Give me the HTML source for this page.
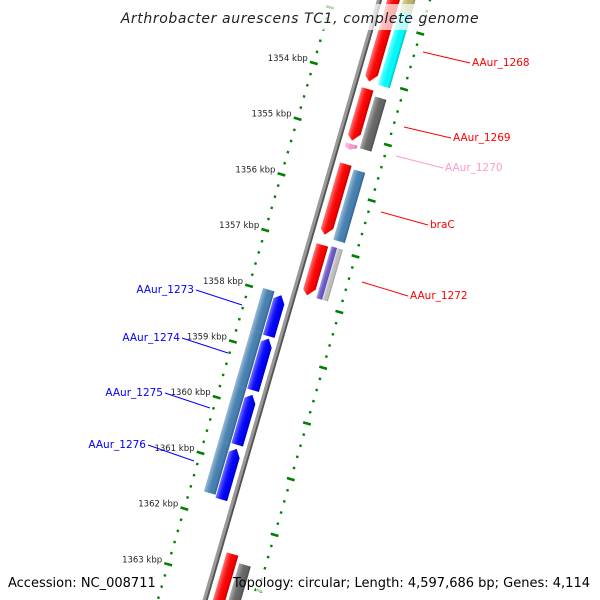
<!DOCTYPE html>
<html><head><meta charset="utf-8"><style>
html,body{margin:0;padding:0;background:#fff;width:600px;height:600px;overflow:hidden}
svg{display:block;overflow:hidden;font-family:"DejaVu Sans","Liberation Sans",sans-serif}
</style></head><body>
<svg id="c" width="600" height="600" viewBox="0 0 600 600">
<defs>
<linearGradient id="gshade" x1="0" x2="1" y1="0" y2="0">
<stop offset="0" stop-color="#fff" stop-opacity="0.45"/>
<stop offset="0.3" stop-color="#fff" stop-opacity="0.15"/>
<stop offset="0.75" stop-color="#000" stop-opacity="0"/>
<stop offset="1" stop-color="#000" stop-opacity="0.25"/>
</linearGradient>
<clipPath id="frame"><rect x="0" y="0" width="600" height="600"/></clipPath>
</defs>
<g clip-path="url(#frame)">
<g id="rot" transform="translate(380,0) rotate(16.2)"></g>
</g>
<g id="labels"></g>
<rect x="130" y="4" width="340" height="26" fill="#fff" fill-opacity="0.7"/>
<text x="300" y="23" text-anchor="middle" font-size="14" font-style="italic" fill="#222" letter-spacing="0.6">Arthrobacter aurescens TC1, complete genome</text>
<rect x="4" y="570" width="148" height="22" fill="#fff" fill-opacity="0.7"/>
<text x="8" y="587" font-size="13" fill="#000">Accession: NC_008711</text>
<rect x="256" y="570" width="340" height="22" fill="#fff" fill-opacity="0.7"/>
<text x="590" y="587" text-anchor="end" font-size="13" fill="#000">Topology: circular; Length: 4,597,686 bp; Genes: 4,114</text>
</svg>
<script>
// ---- data (kbp) ----
var geneNames  = ["AAur_1268","AAur_1269","AAur_1270","braC","AAur_1272","AAur_1273","AAur_1274","AAur_1275","AAur_1276","next-red","prev-gene"];
var geneStarts = [1352.5, 1354.17, 1355.16, 1355.52, 1356.97, 1358.00, 1358.78, 1359.79, 1360.76, 1362.52, 1352.0];
var geneEnds   = [1354.04,1355.10, 1355.26, 1356.79, 1357.88, 1358.74, 1359.71, 1360.69, 1361.67, 1364.5, 1352.72];
var geneStrand = [1,1,1,1,1,-1,-1,-1,-1,1,1];
var geneColors = ["#ff0000","#ff0000","#ff99cc","#ff0000","#ff0000","#0000ff","#0000ff","#0000ff","#0000ff","#ff0000","#ff0000"];
// outer (category) track
var catStarts = [1352.0, 1352.72, 1354.26, 1355.57, 1356.95, 1356.95, 1357.97, 1358.72, 1359.71, 1360.71, 1362.64, 1363.65];
var catEnds   = [1352.72,1354.05, 1355.19, 1356.83, 1357.88, 1357.88, 1358.72, 1359.71, 1360.71, 1361.62, 1364.5, 1364.5];
var catSide   = [1,1,1,1,1,1,-1,-1,-1,-1,1,-1];
var catColors = ["#bdb76b","#00ffff","#666666","#4682b4","#6a5acd","#c0c0c0","#4682b4","#4682b4","#4682b4","#4682b4","#666666","#6a5acd"];
var catHalf   = [0,0,0,0,-1,1,0,0,0,0,0,0];
var tickKbp = [1352,1353,1354,1355,1356,1357,1358,1359,1360,1361,1362,1363,1364,1365];
var labelGene = [0,1,2,3,4,5,6,7,8];

var NS="http://www.w3.org/2000/svg";
var OX=380;
var sinT=Math.sin(16.2*Math.PI/180), cosT=Math.cos(16.2*Math.PI/180);
function uScale(k){return 311+(k-1358)*58;}
function toScreen(u,v){return [OX-u*sinT+v*cosT, u*cosT+v*sinT];}
var rot=document.getElementById('rot'), lab=document.getElementById('labels');
function mk(tag,attrs,parent){var e=document.createElementNS(NS,tag);for(var k in attrs)e.setAttribute(k,attrs[k]);parent.appendChild(e);return e;}

// rulers
var rulerV=[-46,48];
for(var r=0;r<2;r++){
  for(var k=6760;k<=6825;k++){
    var kb=k/5, u=uScale(kb);
    if(u<-20||u>640)continue;
    var d;
    if(k%5===0){
      d=mk('rect',{x:rulerV[r]-4,y:u-1.3,width:8,height:2.6,fill:'#008000'},rot);
      
    } else {
      d=mk('rect',{x:rulerV[r]-1.2,y:u-1.2,width:2.4,height:2.4,fill:'#008000'},rot);
      
    }
    
  }
}
// backbone
var bb=mk('rect',{x:-3,y:-40,width:3,height:700,fill:'#999'},rot);


var bb2=mk('rect',{x:0,y:-40,width:2,height:700,fill:'#555'},rot);



// tick labels
tickKbp.forEach(function(k){
  var u=uScale(k); var p=toScreen(u,-46);
  if(p[1]<35||p[1]>570)return;
  var t=mk('text',{x:p[0]-6,y:p[1]-2,'text-anchor':'end','font-size':8.5,fill:'#222'},lab);
  t.textContent=k+' kbp';
  
  
});

// gene arrows
function drawGene(x0,w,u1,u2,strand,color,name,arrow){
  var g=mk('g',{},rot);
  var h=Math.min(8,(u2-u1)*0.5), pts;
  if(!arrow) pts=[[x0,u1],[x0+w,u1],[x0+w,u2],[x0,u2]];
  else if(strand>0) pts=[[x0,u1],[x0+w,u1],[x0+w,u2-h],[x0+w*0.45,u2],[x0,u2-h*0.6]];
  else pts=[[x0,u1+h*0.6],[x0+w*0.55,u1],[x0+w,u1+h],[x0+w,u2],[x0,u2]];
  var s=pts.map(function(p){return p.join(',');}).join(' ');
  mk('polygon',{points:s,fill:color},g);
  mk('polygon',{points:s,fill:'url(#gshade)'},g);
  
  
}
for(var i=0;i<geneNames.length;i++){
  var x0=geneStrand[i]>0?7:-19;
  drawGene(x0,12,uScale(geneStarts[i]),uScale(geneEnds[i]),geneStrand[i],geneColors[i],'gene-'+geneNames[i],true);
}
for(var j=0;j<catStarts.length;j++){
  var cx=catSide[j]>0?22:-32, w=12;
  if(catHalf[j]===-1){w=6;} if(catHalf[j]===1){cx+=6;w=6;}
  drawGene(cx,w,uScale(catStarts[j]),uScale(catEnds[j]),1,catColors[j],'category-box',false);
}

// gene labels
var labX=[472,453,445,430,410,194,180,163,146];
var labY=[66,141,171,228,299,293,341,396,448];
var lineX1=[423,404,396,381,362,242,228,210,194];
var lineY1=[52,127,156,212,282,305,353,408,461];
labelGene.forEach(function(gi,n){
  var c=geneColors[gi];
  var right=geneStrand[gi]>0;
  var lx=right?labX[n]-2:labX[n]+2;
  var ln=mk('line',{x1:lineX1[n],y1:lineY1[n],x2:lx,y2:labY[n]-3,stroke:c,'stroke-width':1},lab);
  
  
  var t=mk('text',{x:labX[n],y:labY[n],'text-anchor':right?'start':'end','font-size':10.5,fill:c},lab);
  t.textContent=geneNames[gi];
  
  
});
</script>
</body></html>
